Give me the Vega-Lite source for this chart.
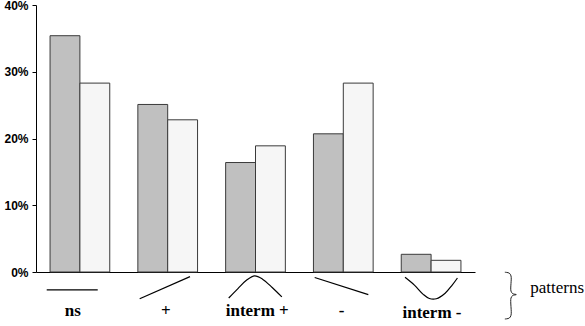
{
  "$schema": "https://vega.github.io/schema/vega-lite/v6.json",
  "padding": {"left": 3, "top": -1, "right": 0, "bottom": 0},
  "background": "white",
  "config": {"view": {"stroke": null}},
  "spacing": 0,
  "align": "all",
  "bounds": "flush",
  "datasets": {
    "bars": [
      {"pattern": "ns", "group": "A", "share": 0.354},
      {"pattern": "ns", "group": "B", "share": 0.283},
      {"pattern": "+", "group": "A", "share": 0.251},
      {"pattern": "+", "group": "B", "share": 0.228},
      {"pattern": "interm +", "group": "A", "share": 0.164},
      {"pattern": "interm +", "group": "B", "share": 0.189},
      {"pattern": "-", "group": "A", "share": 0.207},
      {"pattern": "-", "group": "B", "share": 0.283},
      {"pattern": "interm -", "group": "A", "share": 0.0265},
      {"pattern": "interm -", "group": "B", "share": 0.0175}
    ],
    "glyphs": [
      {"shape": "ns", "i": 0, "x": 0.122, "level": 0.39},
      {"shape": "ns", "i": 1, "x": 0.703, "level": 0.39},
      {"shape": "plus", "i": 0, "x": 1.181, "level": 0.01},
      {"shape": "plus", "i": 1, "x": 1.754, "level": 0.97},
      {"shape": "intplus", "i": 0, "x": 2.195, "level": 0.04},
      {"shape": "intplus", "i": 1, "x": 2.30, "level": 0.45},
      {"shape": "intplus", "i": 2, "x": 2.40, "level": 0.82},
      {"shape": "intplus", "i": 3, "x": 2.49, "level": 1.0},
      {"shape": "intplus", "i": 4, "x": 2.58, "level": 0.86},
      {"shape": "intplus", "i": 5, "x": 2.69, "level": 0.5},
      {"shape": "intplus", "i": 6, "x": 2.80, "level": 0.09},
      {"shape": "minus", "i": 0, "x": 3.174, "level": 0.93},
      {"shape": "minus", "i": 1, "x": 3.785, "level": 0.19},
      {"shape": "intminus", "i": 0, "x": 4.203, "level": 0.94},
      {"shape": "intminus", "i": 1, "x": 4.31, "level": 0.6},
      {"shape": "intminus", "i": 2, "x": 4.41, "level": 0.2},
      {"shape": "intminus", "i": 3, "x": 4.48, "level": 0.02},
      {"shape": "intminus", "i": 4, "x": 4.56, "level": 0.01},
      {"shape": "intminus", "i": 5, "x": 4.66, "level": 0.25},
      {"shape": "intminus", "i": 6, "x": 4.74, "level": 0.6},
      {"shape": "intminus", "i": 7, "x": 4.80, "level": 0.91}
    ],
    "brace": [
      {"i": 0, "x": 5.34, "level": 1.16},
      {"i": 1, "x": 5.39, "level": 1.12},
      {"i": 2, "x": 5.41, "level": 1.0},
      {"i": 3, "x": 5.41, "level": 0.34},
      {"i": 4, "x": 5.43, "level": 0.23},
      {"i": 5, "x": 5.47, "level": 0.19},
      {"i": 6, "x": 5.43, "level": 0.15},
      {"i": 7, "x": 5.41, "level": 0.04},
      {"i": 8, "x": 5.41, "level": -0.71},
      {"i": 9, "x": 5.39, "level": -0.83},
      {"i": 10, "x": 5.34, "level": -0.87}
    ],
    "labels": [
      {"label": "ns", "x": 0.42, "level": -0.52},
      {"label": "+", "x": 1.48, "level": -0.52},
      {"label": "interm +", "x": 2.52, "level": -0.52},
      {"label": "-", "x": 3.48, "level": -0.52},
      {"label": "interm -", "x": 4.51, "level": -0.61}
    ],
    "side": [
      {"label": "patterns", "x": 5.63, "level": 0.48}
    ]
  },
  "vconcat": [
    {
      "width": 439,
      "height": 267,
      "data": {"name": "bars"},
      "mark": {"type": "bar", "stroke": "#3a3a3a", "strokeWidth": 1},
      "encoding": {
        "x": {
          "field": "pattern", "type": "nominal",
          "sort": ["ns", "+", "interm +", "-", "interm -"],
          "scale": {"paddingInner": 0.32, "paddingOuter": 0.16},
          "axis": {"labels": false, "ticks": false, "title": null, "domainColor": "black", "domainWidth": 1}
        },
        "xOffset": {"field": "group", "type": "nominal", "sort": ["A", "B"]},
        "y": {
          "field": "share", "type": "quantitative",
          "scale": {"domain": [0, 0.4], "nice": false},
          "axis": {
            "format": ".0%", "values": [0, 0.1, 0.2, 0.3, 0.4], "title": null, "grid": false,
            "domainColor": "black", "tickColor": "black", "tickSize": 4,
            "labelFont": "Liberation Sans", "labelFontWeight": "bold", "labelFontSize": 12,
            "labelColor": "black", "labelPadding": 4
          }
        },
        "fill": {
          "field": "group", "type": "nominal",
          "scale": {"domain": ["A", "B"], "range": ["#c0c0c0", "#f6f6f6"]},
          "legend": null
        }
      }
    },
    {
      "width": 439,
      "height": 50,
      "layer": [
        {
          "data": {"name": "glyphs"},
          "mark": {"type": "line", "interpolate": "catmull-rom", "color": "black", "strokeWidth": 1.2},
          "encoding": {
            "x": {"field": "x", "type": "quantitative", "scale": {"domain": [0, 5], "nice": false, "zero": false}, "axis": null},
            "y": {"field": "level", "type": "quantitative", "scale": {"domain": [-1, 1.17], "nice": false, "zero": false}, "axis": null},
            "detail": {"field": "shape"},
            "order": {"field": "i", "type": "quantitative"}
          }
        },
        {
          "data": {"name": "brace"},
          "mark": {"type": "line", "interpolate": "catmull-rom", "color": "#222", "strokeWidth": 1},
          "encoding": {
            "x": {"field": "x", "type": "quantitative", "scale": {"domain": [0, 5], "nice": false, "zero": false}, "axis": null},
            "y": {"field": "level", "type": "quantitative", "scale": {"domain": [-1, 1.17], "nice": false, "zero": false}, "axis": null},
            "order": {"field": "i", "type": "quantitative"}
          }
        },
        {
          "data": {"name": "labels"},
          "mark": {"type": "text", "font": "Liberation Serif", "fontWeight": "bold", "fontSize": 17, "color": "black", "align": "center", "baseline": "middle"},
          "encoding": {
            "x": {"field": "x", "type": "quantitative", "scale": {"domain": [0, 5], "nice": false, "zero": false}, "axis": null},
            "y": {"field": "level", "type": "quantitative", "scale": {"domain": [-1, 1.17], "nice": false, "zero": false}, "axis": null},
            "text": {"field": "label"}
          }
        },
        {
          "data": {"name": "side"},
          "mark": {"type": "text", "font": "Liberation Serif", "fontSize": 17, "color": "black", "align": "left", "baseline": "middle"},
          "encoding": {
            "x": {"field": "x", "type": "quantitative", "scale": {"domain": [0, 5], "nice": false, "zero": false}, "axis": null},
            "y": {"field": "level", "type": "quantitative", "scale": {"domain": [-1, 1.17], "nice": false, "zero": false}, "axis": null},
            "text": {"field": "label"}
          }
        }
      ]
    }
  ]
}
